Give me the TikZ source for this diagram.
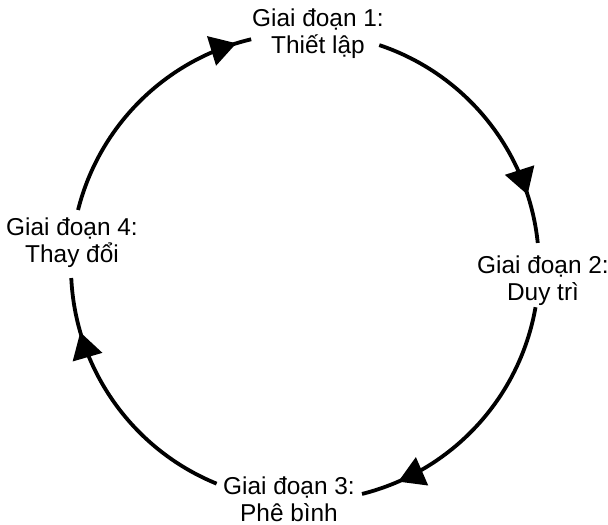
\documentclass[tikz,border=0pt]{standalone}
\usepackage{fontspec}
\setmainfont{Liberation Sans}
\usetikzlibrary{calc,arrows.meta,decorations.markings}
\definecolor{fundo}{HTML}{FFFFFF}
\definecolor{tinta}{HTML}{000000}

\begin{document}
\begin{tikzpicture}[x=0.5pt,y=0.5pt, font=\fontsize{12.2}{13.5}\selectfont,
    fase/.style={align=center, text=tinta, inner sep=0pt},
    ciclo/.style={line width=1.9pt, tinta, postaction={decorate},
      decoration={markings, mark=at position #1 with {\arrow{Triangle[length=13pt,width=15pt]}}}}]
  \fill[fundo] (0,0) rectangle (608,524);
  \useasboundingbox (0,0) rectangle (608,524);
  \coordinate (c) at (305,257);
  \node[fase] (gd1) at (318,490) {Giai đoạn 1:\\Thiết lập};
  \node[fase] (gd2) at (543,243) {Giai đoạn 2:\\Duy trì};
  \node[fase] (gd3) at (289,25) {Giai đoạn 3:\\Phê bình};
  \node[fase] (gd4) at (72,281) {Giai đoạn 4:\\Thay đổi};
  \coordinate (a1) at ($(c)+(71.5:234)$);
  \coordinate (a2) at ($(c)+(-9.9:234)$);
  \coordinate (a3) at ($(c)+(247.8:234)$);
  \coordinate (a4) at ($(c)+(165.9:234)$);
  \draw[ciclo=0.816] (a1) arc[start angle=71.5, end angle=5.9, radius=234];
  \draw[ciclo=0.858] (a2) arc[start angle=-9.9, end angle=-75.9, radius=234];
  \draw[ciclo=0.793] (a3) arc[start angle=247.8, end angle=182.7, radius=234];
  \draw[ciclo=0.94] (a4) arc[start angle=165.9, end angle=103.3, radius=234];
\end{tikzpicture}
\end{document}
